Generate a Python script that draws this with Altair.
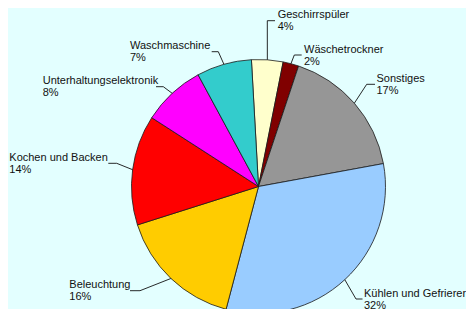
import math
import altair as alt
import pandas as pd

# ---- data ----
categories = ["Geschirrspüler", "Wäschetrockner", "Sonstiges", "Kühlen und Gefrierer",
              "Beleuchtung", "Kochen und Backen", "Unterhaltungselektronik", "Waschmaschine"]
shares = [4, 2, 17, 32, 16, 14, 8, 7]
colors = ["#FFFFCC", "#800000", "#969696", "#99CCFF", "#FFCC00", "#FF0000", "#FF00FF", "#33CCCC"]

# ---- layout (page pixel coordinates) ----
W, H = 458, 301
start_deg = -3.2
cx, cy, r = 258.5, 186.5, 127
text_x = [277.7, 304.0, 376.5, 364.0, 69.3, 9.3, 42.7, 130.0]
leader_y = [20.7, 55.0, 84.3, 299.0, 290.7, 163.3, 86.7, 51.7]
elbow_x = [267.3, 294.3, 366.7, 356.0, 140.0, 116.7, 163.3, 218.3]
end_x = [275.0, 301.7, 375.0, 362.5, 130.0, 108.3, 156.0, 211.7]

pie = pd.DataFrame({
    "category": categories,
    "share": shares,
    "idx": list(range(len(categories))),
    "pct": [f"{s}%" for s in shares],
    "tx": text_x,
    "ty1": [y - 2.5 for y in leader_y],
    "ty2": [y + 9.5 for y in leader_y],
})

rows = []
cum = 0
for i, (c, s) in enumerate(zip(categories, shares)):
    mid = math.radians(start_deg + (cum + s / 2) * 3.6)
    cum += s
    pts = [(cx + r * math.sin(mid), cy - r * math.cos(mid)),
           (elbow_x[i], leader_y[i]), (end_x[i], leader_y[i])]
    for k, (px, py) in enumerate(pts):
        rows.append({"category": c, "seq": k, "x": px, "y": py})
leaders = pd.DataFrame(rows)

xs = alt.Scale(domain=[8, 8 + W], nice=False, zero=False)
ys = alt.Scale(domain=[8, 8 + H], nice=False, zero=False, reverse=True)
start = math.radians(start_deg)

arcs = alt.Chart(pie).mark_arc(radius=r, stroke="#1a1a1a", strokeWidth=0.8).encode(
    theta=alt.Theta("share:Q", stack=True, scale=alt.Scale(range=[start, start + 2 * math.pi])),
    color=alt.Color("category:N", scale=alt.Scale(domain=categories, range=colors), legend=None),
    order=alt.Order("idx:Q"),
    x=alt.XDatum(cx, type="quantitative", scale=xs, axis=None),
    y=alt.YDatum(cy, type="quantitative", scale=ys, axis=None),
)

lines = alt.Chart(leaders).mark_line(color="#111111", strokeWidth=0.9).encode(
    x=alt.X("x:Q", scale=xs, axis=None),
    y=alt.Y("y:Q", scale=ys, axis=None),
    detail="category:N",
    order="seq:Q",
)

txt_style = dict(align="left", baseline="alphabetic", font="Liberation Sans", fontSize=11, color="#111111")
names = alt.Chart(pie).mark_text(**txt_style).encode(
    x=alt.X("tx:Q", scale=xs, axis=None),
    y=alt.Y("ty1:Q", scale=ys, axis=None),
    text="category:N",
)
pcts = alt.Chart(pie).mark_text(**txt_style).encode(
    x=alt.X("tx:Q", scale=xs, axis=None),
    y=alt.Y("ty2:Q", scale=ys, axis=None),
    text="pct:N",
)

chart = alt.layer(arcs, lines, names, pcts).properties(
    width=W, height=H, padding=0,
    autosize=alt.AutoSizeParams(type="none"),
    background="#E3FFFF",
).configure_view(stroke=None)

chart.save("out.html", embed_options={"renderer": "svg", "actions": False})
